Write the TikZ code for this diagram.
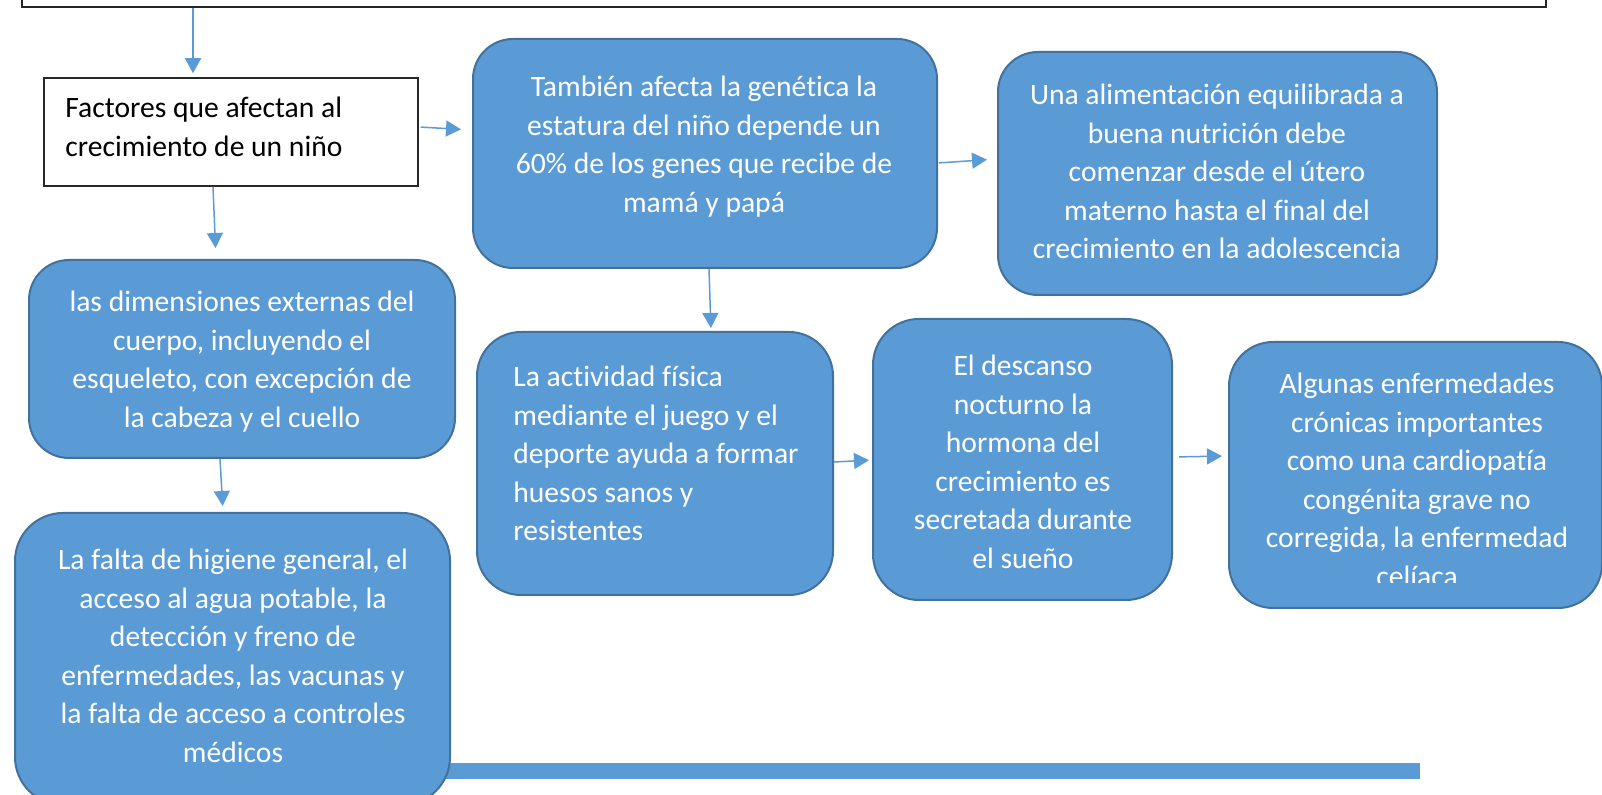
\documentclass[tikz,border=0pt]{standalone}
\usepackage{fontspec}
\setmainfont[Ligatures=CommonOff]{Carlito}
\usetikzlibrary{arrows.meta}
\definecolor{cBlue}{HTML}{5B9BD5}
\definecolor{cEdge}{HTML}{41719C}
\definecolor{cFrame}{HTML}{262626}

\begin{document}
\begin{tikzpicture}[x=0.5pt,y=-0.5pt,font=\fontsize{14.8}{19.25}\selectfont,
      blu/.style={draw=cEdge,line width=1pt,fill=cBlue,rounded corners=20pt,inner sep=0pt},
      wht/.style={draw=cFrame,line width=0.75pt,fill=white,inner sep=0pt},
      txt/.style={anchor=north,inner sep=0pt,align=center,text=white},
      arr/.style={draw=cBlue,line width=0.75pt,-{Triangle[width=8pt,length=7.5pt]}}]
    \clip (0,0) rectangle (1602,795);
    % frame and bar
    \node[wht,minimum width=762pt,minimum height=18.5pt] (top) at (784,-11.5) {};
    \node[fill=cBlue,inner sep=0pt,minimum width=490pt,minimum height=8pt] (bar) at (930,771) {};
    % boxes
    \node[wht,minimum width=187pt,minimum height=54pt] (fact) at (231,132) {};
    \node[blu,minimum width=232pt,minimum height=114.5pt] (tamb) at (705,153.5) {};
    \node[blu,minimum width=219.5pt,minimum height=121.5pt] (alim) at (1217.5,173.5) {};
    \node[blu,minimum width=213pt,minimum height=99pt] (dims) at (242,359) {};
    \node[blu,minimum width=217.5pt,minimum height=146pt,rounded corners=24pt] (falta) at (232.5,659) {};
    \node[blu,minimum width=178pt,minimum height=131.5pt,rounded corners=22pt] (activ) at (655,463.5) {};
    \node[blu,minimum width=149.5pt,minimum height=140.5pt,rounded corners=23pt] (desc) at (1022.5,459.5) {};
    \node[blu,minimum width=186.5pt,minimum height=133pt,rounded corners=22pt] (algun) at (1415.5,475) {};
    % texts
    \node[txt,anchor=north west,align=left,text=black] (tfact) at (65,97) {Factores que afectan al\\crecimiento de un niño};
    \node[txt] (ttamb) at (704,76) {También afecta la genética la\\estatura del niño depende un\\60\% de los genes que recibe de\\mamá y papá};
    \node[txt] (talim) at (1217,84) {Una alimentación equilibrada a\\buena nutrición debe\\comenzar desde el útero\\materno hasta el final del\\crecimiento en la adolescencia};
    \node[txt] (tdims) at (242,291) {las dimensiones externas del\\cuerpo, incluyendo el\\esqueleto, con excepción de\\la cabeza y el cuello};
    \node[txt] (tfalta) at (233,549) {La falta de higiene general, el\\acceso al agua potable, la\\detección y freno de\\enfermedades, las vacunas y\\la falta de acceso a controles\\médicos};
    \node[txt,anchor=north west,align=left] (tactiv) at (513,366) {La actividad física\\mediante el juego y el\\deporte ayuda a formar\\huesos sanos y\\resistentes};
    \node[txt] (tdesc) at (1023,355) {El descanso\\nocturno la\\hormona del\\crecimiento es\\secretada durante\\el sueño};
    \begin{scope}
      \clip (1229,342) rectangle (1602,583);
      \node[txt] (talgun) at (1417,373) {Algunas enfermedades\\crónicas importantes\\como una cardiopatía\\congénita grave no\\corregida, la enfermedad\\celíaca};
    \end{scope}
    % arrows
    \draw[arr,shorten >=2pt] (top.south -| 193,0) -- (fact.north -| 193,0);
    \draw[arr,shorten <=1pt,shorten >=5.5pt] (fact.east |- 0,127) -- (tamb.west |- 0,130);
    \draw[arr,shorten >=5.5pt] (fact.south -| 213,0) -- (dims.north -| 216,0);
    \draw[arr,shorten >=3pt] (dims.south -| 220,0) -- (falta.north -| 223,0);
    \draw[arr,shorten <=0.5pt,shorten >=5pt] (tamb.east |- 0,163) -- (alim.west |- 0,159);
    \draw[arr,shorten >=1.5pt] (tamb.south -| 709,0) -- (activ.north -| 711,0);
    \draw[arr,shorten >=1.5pt] (activ.east |- 0,462) -- (desc.west |- 0,460);
    \draw[arr,shorten <=3pt,shorten >=3pt] (desc.east |- 0,457) -- (algun.west |- 0,456);
  \end{tikzpicture}
\end{document}
